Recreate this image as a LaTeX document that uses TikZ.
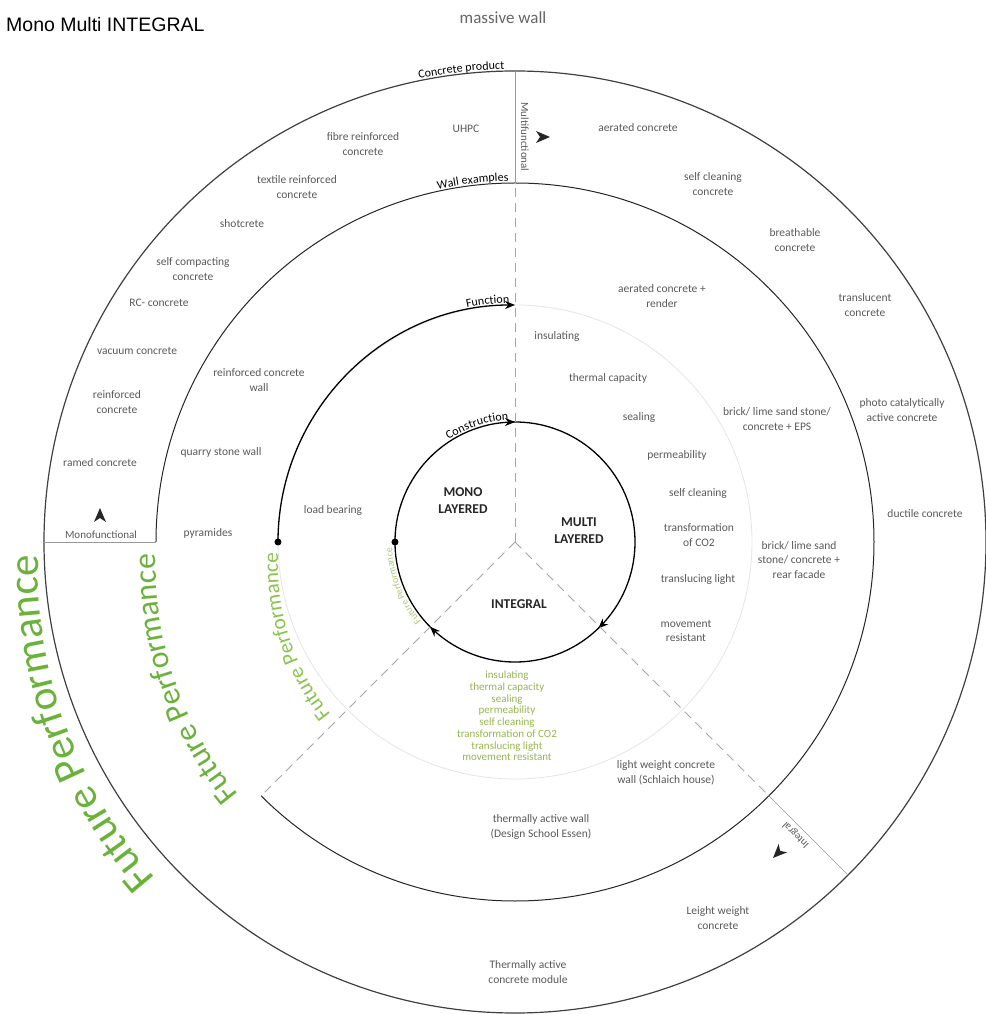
\documentclass[tikz,border=0pt]{standalone}
\usepackage{fontspec}
\setmainfont{Carlito}
\newfontfamily\titlefont{Liberation Sans}
\usetikzlibrary{decorations.text,decorations.markings,arrows.meta}
\definecolor{txtgrey}{RGB}{90,90,90}
\definecolor{fpgreen}{RGB}{106,178,58}
\definecolor{fplight}{RGB}{138,196,78}
\definecolor{fppale}{RGB}{172,200,112}
\definecolor{listgreen}{RGB}{150,182,82}
\definecolor{dashgrey}{RGB}{165,165,165}
\newcommand\fpAfont{\fontsize{43}{50}\selectfont}
\newcommand\fpBfont{\fontsize{31.7}{37}\selectfont}
\newcommand\fpCfont{\fontsize{21.2}{25}\selectfont}
\newcommand\fpDfont{\fontsize{9.8}{12}\selectfont}
\newcommand\arclblfont{\fontsize{12}{14}\selectfont}
\begin{document}
\begin{tikzpicture}[x=1pt,y=1pt,
  item/.style={font=\fontsize{11.5}{14.5}\selectfont, text=txtgrey, align=center, inner sep=0pt},
  glist/.style={font=\fontsize{11}{11.7}\selectfont, text=listgreen, align=center, inner sep=0pt},
  core/.style={font=\bfseries\fontsize{13.5}{17}\selectfont, text=black!85, align=center, inner sep=0pt},
  axislbl/.style={font=\fontsize{11}{13}\selectfont, text=txtgrey, inner sep=0pt},
  sepdash/.style={draw=dashgrey, line width=1pt, dash pattern=on 9pt off 6pt},
  sepline/.style={draw=black!40, line width=0.6pt},
  ringA/.style={draw=black!75, line width=1.2pt},
  ringB/.style={draw=black!85, line width=1pt},
  ringC/.style={draw=black, line width=1.3pt},
  faintring/.style={draw=black!10, line width=0.8pt},
  chev/.pic={\fill[black!85] (7,0) -- (-7,6) -- (-3,0) -- (-7,-6) -- cycle;},
  arclbl/.style={decorate, decoration={text along path, text align=center, raise=2pt, text color=black, text={|\arclblfont|#1}}},
]
\useasboundingbox (-515,-472) rectangle (470,542);
\fill[white] (-515,-472) rectangle (470,542);

% named coordinates
\coordinate (c) at (0,0);
\coordinate (fpc) at (0,-23);
\coordinate (d90) at (90:359pt);
\coordinate (e90) at (90:471pt);
\coordinate (d180) at (180:359pt);
\coordinate (e180) at (180:471pt);
\coordinate (d315) at (-45:359pt);
\coordinate (e315) at (-45:471pt);
\coordinate (d225) at (225:359pt);
\coordinate (f180) at (180:237pt);
\coordinate (g180) at (180:120pt);

% rings
\draw[ringA] (c) circle[radius=471pt];
\draw[ringB] (d180) arc[start angle=180, end angle=-135, radius=359pt];
\draw[faintring] (c) circle[radius=237pt];
\draw[ringC, -{Stealth[length=10pt,width=8pt]}] (f180) arc[start angle=180, end angle=90, radius=237pt];
\fill (f180) circle[radius=3.5pt];
\draw[ringC, postaction={decorate}, decoration={markings,
  mark=at position 0.25 with {\arrow{Stealth[length=10pt,width=8pt]}},
  mark=at position 0.628 with {\arrow{Stealth[length=10pt,width=8pt]}},
  mark=at position 0.875 with {\arrow{Stealth[length=10pt,width=8pt]}}}]
  (g180) arc[start angle=180, end angle=-180, radius=120pt];
\fill (g180) circle[radius=3.5pt];

% separators
\draw[sepdash] (c) -- (d90);
\draw[sepdash] (c) -- (d225);
\draw[sepdash] (c) -- (d315);
\draw[sepline] (d90) -- (e90);
\draw[sepline] (d180) -- (e180);
\draw[sepline] (d315) -- (e315);

% direction arrowheads
\pic at (28,405) {chev};
\pic[rotate=90] at (-415,27) {chev};
\pic[rotate=225] at (263,-311) {chev};

% axis labels
\node[axislbl, rotate=-90] (multi) at (10,405) {Multifunctional};
\node[axislbl] (mono) at (-414,7) {Monofunctional};
\node[axislbl, font=\fontsize{10.5}{12}\selectfont, rotate=135] (integ) at (281,-293) {Integral};

% arc labels
\path[arclbl=Concrete product] (111.5:471pt) arc[start angle=111.5, end angle=81.5, radius=471pt];
\path[arclbl=Wall examples] (111.7:359pt) arc[start angle=111.7, end angle=81.7, radius=359pt];
\path[arclbl=Function] (111.5:237pt) arc[start angle=111.5, end angle=81.5, radius=237pt];
\path[arclbl=Construction] (138:120pt) arc[start angle=138, end angle=78, radius=120pt];

% future performance texts
\path[decorate, decoration={text along path, text align=center, text color=fpgreen, text={|\fpAfont|Future Performance}}]
  ([shift={(230:477pt)}]fpc) arc[start angle=230, end angle=170, radius=477pt];
\path[decorate, decoration={text along path, text align=center, text color=fpgreen, text={|\fpBfont|Future Performance}}]
  ([shift={(229:359pt)}]fpc) arc[start angle=229, end angle=169, radius=359pt];
\path[decorate, decoration={text along path, text align=center, text color=fplight, text={|\fpCfont|Future Performance}}]
  ([shift={(228:237pt)}]fpc) arc[start angle=228, end angle=168, radius=237pt];
\path[decorate, decoration={text along path, text align=center, text color=fppale, text={|\fpDfont|Future Performance}}]
  (231.5:123pt) arc[start angle=231.5, end angle=171.5, radius=123pt];

% title
\node[anchor=west, inner sep=0pt, font=\titlefont\fontsize{19.5}{22}\selectfont] (title) at (-509,517) {Mono Multi INTEGRAL};
\node[inner sep=0pt, font=\fontsize{17}{20}\selectfont, text=black!60] (massive) at (-12,524) {massive wall};

% outer ring: concrete products
\node[item] (n1) at (-49,413) {UHPC};
\node[item] (n2) at (-152,398) {fibre reinforced\\concrete};
\node[item] (n3) at (-218,355) {textile reinforced\\concrete};
\node[item] (n4) at (-273,318) {shotcrete};
\node[item] (n5) at (-322,273) {self compacting\\concrete};
\node[item] (n6) at (-356,239) {RC- concrete};
\node[item] (n7) at (-378,191) {vacuum concrete};
\node[item] (n8) at (-398,140) {reinforced\\concrete};
\node[item] (n9) at (-415,79) {ramed concrete};
\node[item] (n10) at (123,414) {aerated concrete};
\node[item] (n11) at (198,358) {self cleaning\\concrete};
\node[item] (n12) at (280,302) {breathable\\concrete};
\node[item] (n13) at (350,237) {translucent\\concrete};
\node[item] (n14) at (387,132) {photo catalytically\\active concrete};
\node[item] (n15) at (410,28) {ductile concrete};
\node[item] (n16) at (203,-376) {Leight weight\\concrete};
\node[item] (n17) at (13,-430) {Thermally active\\concrete module};

% wall examples
\node[item] (w1) at (-256,162) {reinforced concrete\\wall};
\node[item] (w2) at (-294,90) {quarry stone wall};
\node[item] (w3) at (-307,9) {pyramides};
\node[item] (w4) at (147,246) {aerated concrete +\\render};
\node[item] (w5) at (262,123) {brick/ lime sand stone/\\concrete + EPS};
\node[item] (w6) at (284,-18) {brick/ lime sand\\stone/ concrete +\\rear facade};
\node[item] (w7) at (151,-231) {light weight concrete\\wall (Schlaich house)};
\node[item] (w8) at (26,-285) {thermally active wall\\(Design School Essen)};

% functions
\node[item] (f1) at (-182,32) {load bearing};
\node[item] (f2) at (42,205) {insulating};
\node[item] (f3) at (93,164) {thermal capacity};
\node[item] (f4) at (124,125) {sealing};
\node[item] (f5) at (162,87) {permeability};
\node[item] (f6) at (183,49) {self cleaning};
\node[item] (f7) at (184,7) {transformation\\of CO2};
\node[item] (f8) at (183,-37) {translucing light};
\node[item] (f9) at (171,-89) {movement\\resistant};
\node[glist] (gl) at (-8,-174) {insulating\\thermal capacity\\sealing\\permeability\\self cleaning\\transformation of CO2\\translucing light\\movement resistant};

% construction types
\node[core] (monoL) at (-52,41) {MONO\\LAYERED};
\node[core] (multiL) at (64,11) {MULTI\\LAYERED};
\node[core] (integL) at (4,-62) {INTEGRAL};
\end{tikzpicture}
\end{document}
